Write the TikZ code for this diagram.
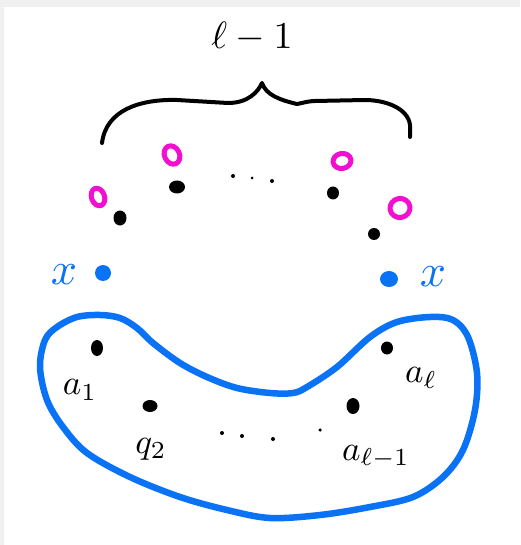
\documentclass[tikz,border=0pt]{standalone}
\usepackage{graphicx}
\usetikzlibrary{shapes.geometric}
\begin{document}
\begin{tikzpicture}[x=1pt,y=-1pt,
  blob/.style={draw=myblue,line width=6.5pt,line join=round},
  bdot/.style={ellipse,fill=black,inner sep=0pt,minimum width=11pt,minimum height=12pt},
  sdot/.style={circle,fill=black,inner sep=0pt,minimum size=4pt},
  bluedot/.style={circle,fill=myblue,inner sep=0pt,minimum size=16pt},
  pinko/.style={ellipse,draw=mypink,line width=5pt,inner sep=0pt},
  lab/.style={inner sep=0pt}]
\definecolor{myblue}{HTML}{0A72F5}
\definecolor{mypink}{HTML}{F20FD2}
\definecolor{edgegray}{HTML}{F0F0F0}
\useasboundingbox (0,0) rectangle (520,545);
\fill[edgegray] (0,0) rectangle (520,7);
\fill[edgegray] (0,0) rectangle (4,545);
% top label and brace
\node[lab] (top) at (252,37) {\scalebox{3.8}{$\ell - 1$}};
\draw[line width=4pt,line cap=round,line join=round] (102,143) .. controls (106,110) and (140,99) .. (177,100)
  -- (228,103) .. controls (248,103) and (258,92) .. (262,83)
  .. controls (266,95) and (280,100) .. (297,104)
  .. controls (303,103) and (308,101) .. (315,101)
  -- (365,100) .. controls (385,100) and (408,108) .. (410,125) -- (410,137);
% pink circles
\node[pinko,rotate=20,minimum width=13pt,minimum height=18pt] (p1) at (98,197) {};
\node[pinko,rotate=25,minimum width=15pt,minimum height=19pt] (p2) at (172,155) {};
\node[pinko,rotate=10,minimum width=18pt,minimum height=15pt] (p3) at (342,161) {};
\node[pinko,rotate=10,minimum width=20pt,minimum height=19pt] (p4) at (400,208) {};
% black dots above
\node[bdot,minimum width=13pt,minimum height=15pt] (d1) at (120,218) {};
\node[bdot,minimum width=16pt,minimum height=13pt] (d2) at (177,187) {};
\node[bdot,minimum width=12pt,minimum height=13pt] (d3) at (333,193) {};
\node[bdot,minimum width=12pt,minimum height=12pt] (d4) at (374,234) {};
\node[sdot,minimum size=4pt] (e1) at (233,176) {};
\node[sdot,minimum size=3pt] (e2) at (252,178) {};
\node[sdot,minimum size=4pt] (e3) at (272,181) {};
% blue dots and x
\node[bluedot] (bl) at (103,273) {};
\node[bluedot,ellipse,minimum width=18pt,minimum height=16pt] (br) at (389,279) {};
\node[lab,text=myblue] (xl) at (64,275) {\scalebox{4.6}{$x$}};
\node[lab,text=myblue] (xr) at (433,277) {\scalebox{4.6}{$x$}};
% blob
\draw[blob] plot[smooth cycle,tension=0.55] coordinates {
 (40,367) (45,340) (57,327) (77,317) (100,315) (120,318) (137,328) (153,343)
 (180,363) (207,377) (237,388) (270,393) (293,393) (307,387) (337,367)
 (370,337) (397,322) (430,317) (453,320) (468,337) (477,373) (475,410)
 (463,450) (443,477) (413,497) (370,507) (320,515) (270,518) (227,510)
 (180,497) (130,477) (87,453) (63,427) (47,400)};
% inside dots
\node[bdot,minimum width=12pt,minimum height=16pt] (a1d) at (97,348) {};
\node[bdot,minimum width=15pt,minimum height=12pt] (a2d) at (150,406) {};
\node[bdot,minimum width=12pt,minimum height=13pt] (ald) at (387,348) {};
\node[bdot,minimum width=13pt,minimum height=16pt] (a3d) at (353,406) {};
\node[sdot] (f1) at (222,433) {};
\node[sdot] (f2) at (242,436) {};
\node[sdot] (f3) at (273,439) {};
\node[sdot,minimum size=3.5pt] (f4) at (320,430) {};
% labels
\node[lab] (a1) at (80,390) {\scalebox{3.5}{$a_1$}};
\node[lab] (q2) at (151,449) {\scalebox{3.5}{$q_2$}};
\node[lab] (al) at (421,378) {\scalebox{3.5}{$a_\ell$}};
\node[lab] (alm) at (376,457) {\scalebox{3.5}{$a_{\ell-1}$}};
\end{tikzpicture}
\end{document}
